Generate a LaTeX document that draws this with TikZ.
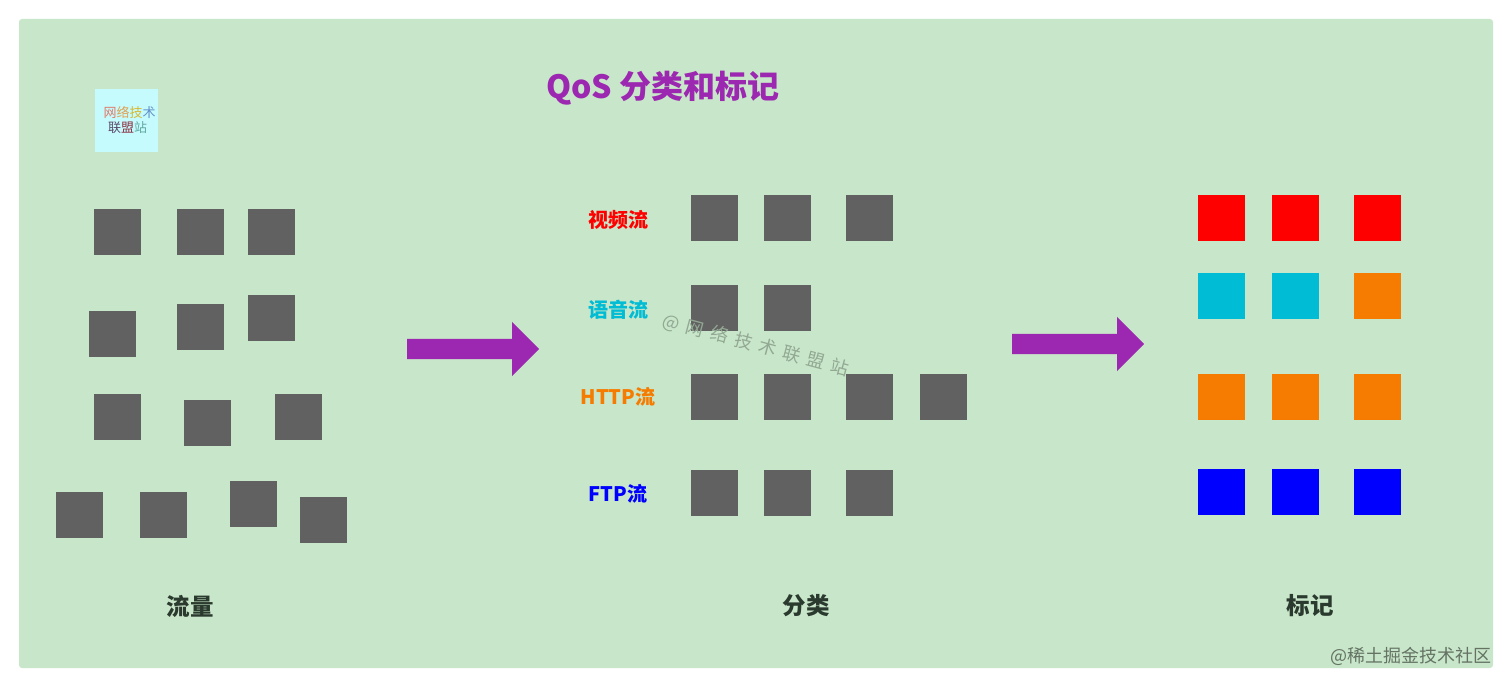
\documentclass[tikz,border=0pt]{standalone}
\usepackage{fontspec}
\setmainfont{Noto Sans CJK SC}
\usetikzlibrary{shapes.arrows}
\definecolor{panelgreen}{HTML}{C8E6C9}
\definecolor{flowgray}{HTML}{616161}
\definecolor{flowcyan}{HTML}{00BCD4}
\definecolor{floworange}{HTML}{F57C00}
\definecolor{flowpurple}{HTML}{9C27B0}
\definecolor{logocyan}{HTML}{C6FBFD}
\definecolor{captiondark}{HTML}{2B3A2E}
\definecolor{logoa}{HTML}{E07A6A}
\definecolor{logob}{HTML}{E0A050}
\definecolor{logoc}{HTML}{D8B830}
\definecolor{logod}{HTML}{6090C8}
\definecolor{logoe}{HTML}{5A4A6A}
\definecolor{logof}{HTML}{8A3040}
\definecolor{logog}{HTML}{60A8A0}
\newcommand{\wmgap}{\hspace{7pt}}
\begin{document}
\begin{tikzpicture}[
    x=1pt, y=-1pt,
    sqr/.style={rectangle, inner sep=0pt, minimum width=47pt, minimum height=46pt},
    gsqr/.style={sqr, fill=flowgray},
    bigarrow/.style={single arrow, fill=flowpurple, inner xsep=0pt, inner ysep=10pt, minimum height=132pt, minimum width=54pt,
                     single arrow head extend=17pt, single arrow head indent=0pt, anchor=tail},
    flowlabel/.style={font=\fontsize{20}{20}\selectfont\bfseries, inner sep=0pt},
    caption/.style={font=\fontsize{23.5}{24}\selectfont\bfseries, text=captiondark, inner sep=0pt},
    logotext/.style={font=\fontsize{13}{13}\selectfont, inner sep=0pt},
]
  \useasboundingbox (0,0) rectangle (1512,687);
  \fill [panelgreen, rounded corners=3pt] (19,19) rectangle (1493,668);

  \node [font=\fontsize{32}{32}\selectfont\bfseries, text=flowpurple, inner sep=0pt] (title) at (663,88) {QoS 分类和标记};

  \node [rectangle, fill=logocyan, inner sep=0pt, minimum size=63pt] (logo) at (126.5,120.5) {};
  \node [logotext] (logotop) at (129.5,112) {\textcolor{logoa}{网}\textcolor{logob}{络}\textcolor{logoc}{技}\textcolor{logod}{术}};
  \node [logotext] (logobot) at (127.5,128) {\textcolor{logoe}{联}\textcolor{logof}{盟}\textcolor{logog}{站}};

  \node [gsqr] (a1)  at (117.5,232) {};
  \node [gsqr] (a2)  at (200.5,232) {};
  \node [gsqr] (a3)  at (271.5,232) {};
  \node [gsqr] (a4)  at (112.5,334) {};
  \node [gsqr] (a5)  at (200.5,327) {};
  \node [gsqr] (a6)  at (271.5,318) {};
  \node [gsqr] (a7)  at (117.5,417) {};
  \node [gsqr] (a8)  at (207.5,422.5) {};
  \node [gsqr] (a9)  at (298.5,417) {};
  \node [gsqr] (a10) at (79.5,515) {};
  \node [gsqr] (a11) at (163.5,515) {};
  \node [gsqr] (a12) at (253.5,504) {};
  \node [gsqr] (a13) at (323.5,520) {};

  \node [bigarrow] (arrowa) at (407,349) {};

  \node [flowlabel, text=red]        (video) at (618,219.5) {视频流};
  \node [flowlabel, text=flowcyan]   (voice) at (618,309.5) {语音流};
  \node [flowlabel, text=floworange] (http)  at (618,397) {HTTP流};
  \node [flowlabel, text=blue]       (ftp)   at (618,494) {FTP流};

  \node [gsqr] (b1)  at (714.5,218) {};
  \node [gsqr] (b2)  at (787.5,218) {};
  \node [gsqr] (b3)  at (869.5,218) {};
  \node [gsqr] (b4)  at (714.5,308) {};
  \node [gsqr] (b5)  at (787.5,308) {};
  \node [gsqr] (b6)  at (714.5,397) {};
  \node [gsqr] (b7)  at (787.5,397) {};
  \node [gsqr] (b8)  at (869.5,397) {};
  \node [gsqr] (b9)  at (943.5,397) {};
  \node [gsqr] (b10) at (714.5,493) {};
  \node [gsqr] (b11) at (787.5,493) {};
  \node [gsqr] (b12) at (869.5,493) {};

  \node [bigarrow] (arrowb) at (1012,344) {};

  \node [sqr, fill=red]        (c1)  at (1221.5,218) {};
  \node [sqr, fill=red]        (c2)  at (1295.5,218) {};
  \node [sqr, fill=red]        (c3)  at (1377.5,218) {};
  \node [sqr, fill=flowcyan]   (c4)  at (1221.5,296) {};
  \node [sqr, fill=flowcyan]   (c5)  at (1295.5,296) {};
  \node [sqr, fill=floworange] (c6)  at (1377.5,296) {};
  \node [sqr, fill=floworange] (c7)  at (1221.5,397) {};
  \node [sqr, fill=floworange] (c8)  at (1295.5,397) {};
  \node [sqr, fill=floworange] (c9)  at (1377.5,397) {};
  \node [sqr, fill=blue]       (c10) at (1221.5,492) {};
  \node [sqr, fill=blue]       (c11) at (1295.5,492) {};
  \node [sqr, fill=blue]       (c12) at (1377.5,492) {};

  \node [caption] (capa) at (190,606)  {流量};
  \node [caption] (capb) at (806,606)  {分类};
  \node [caption] (capc) at (1310,606) {标记};

  \node [font=\fontsize{18}{18}\selectfont, text=black!27!panelgreen, inner sep=0pt, rotate=-15] (mark) at (756,345) {@\wmgap 网\wmgap 络\wmgap 技\wmgap 术\wmgap 联\wmgap 盟\wmgap 站};
  \node [font=\fontsize{18}{18}\selectfont, text=black!50!panelgreen, inner sep=0pt, anchor=east] (site) at (1492,656) {@稀土掘金技术社区};
\end{tikzpicture}
\end{document}
